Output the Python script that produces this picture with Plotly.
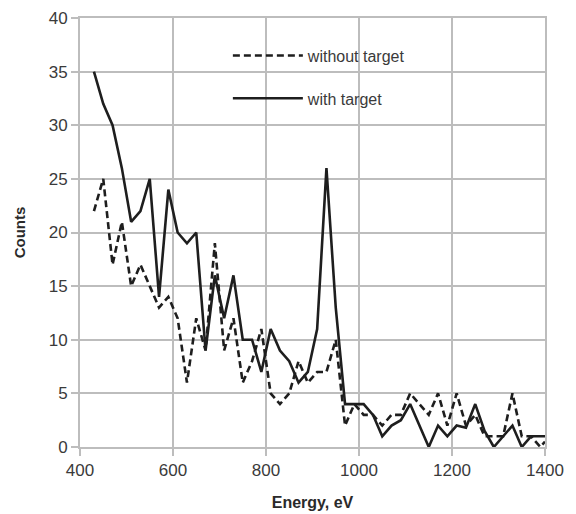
import plotly.graph_objects as go

energy = [430, 450, 470, 490, 510, 530, 550, 570, 590, 610, 630, 650, 670, 690, 710,
          730, 750, 770, 790, 810, 830, 850, 870, 890, 910, 930, 950, 970, 990, 1010,
          1030, 1050, 1070, 1090, 1110, 1130, 1150, 1170, 1190, 1210, 1230, 1250, 1270,
          1290, 1310, 1330, 1350, 1370, 1390, 1400]

without_target = [22, 25, 17, 21, 15, 17, 15, 13, 14, 12, 6, 12, 9, 19, 9,
                  12, 6, 8, 11, 5, 4, 5, 8, 6, 7, 7, 10, 2, 4, 3,
                  3, 2, 3, 3, 5, 4, 3, 5, 2, 5, 2, 3, 1,
                  1, 1, 5, 1, 1, 0, 0.5]

with_target = [35, 32, 30, 26, 21, 22, 25, 14, 24, 20, 19, 20, 9, 16, 12,
               16, 10, 10, 7, 11, 9, 8, 6, 7, 11, 26, 13, 4, 4, 4,
               3, 1, 2, 2.5, 4, 2, 0, 2, 1, 2, 1.8, 4, 1.5,
               0, 1, 2, 0, 1, 1, 1]

x_ticks = [400, 600, 800, 1000, 1200, 1400]
y_ticks = [0, 5, 10, 15, 20, 25, 30, 35, 40]

fig = go.Figure()
fig.add_trace(go.Scatter(x=energy, y=without_target, mode="lines", name="without target",
                         legendgroup="a",
                         line=dict(color="#1e1e1e", width=2.6, dash="7px,4px")))
fig.add_trace(go.Scatter(x=energy, y=with_target, mode="lines", name="with target",
                         legendgroup="b",
                         line=dict(color="#1e1e1e", width=2.6)))

grid = "#bdbdbd"
fig.update_layout(
    width=568, height=506,
    margin=dict(l=72, r=31, t=10, b=67),
    paper_bgcolor="white", plot_bgcolor="white",
    font=dict(family="Liberation Sans, Arial, sans-serif", color="#3a3a3a", size=17),
    showlegend=True,
    legend=dict(x=0.318, y=0.952, xanchor="left", yanchor="top",
                bgcolor="rgba(255,255,255,0)", font=dict(size=16, color="#3a3a3a"),
                tracegroupgap=19, traceorder="grouped", itemwidth=70),
    xaxis=dict(range=[400, 1400], tickvals=x_ticks, showgrid=True, gridcolor=grid,
               gridwidth=2, zeroline=False, showline=True, linecolor=grid, linewidth=2,
               mirror=True, ticks="outside", ticklen=7, tickcolor=grid, tickwidth=2,
               automargin=False, ticklabeloverflow="allow",
               title=dict(text="<b>Energy, eV</b>", font=dict(size=16, color="#2a2a2a"),
                          standoff=17)),
    yaxis=dict(range=[0, 40], tickvals=y_ticks, showgrid=True, gridcolor=grid,
               gridwidth=2, zeroline=False, showline=True, linecolor=grid, linewidth=2,
               mirror=True, ticks="outside", ticklen=7, tickcolor=grid, tickwidth=2,
               automargin=False, ticklabeloverflow="allow",
               title=dict(text="<b>Counts</b>", font=dict(size=15, color="#2a2a2a"),
                          standoff=19)),
)

fig.write_html("out.html")
